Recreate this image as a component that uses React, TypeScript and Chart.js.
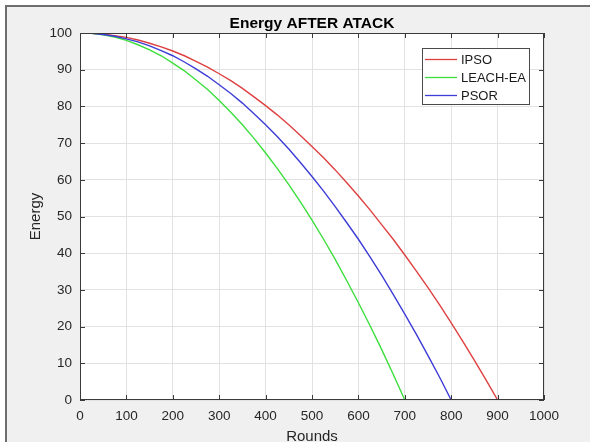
import React, { useEffect, useRef } from "react";
import { Chart, registerables } from "chart.js";

Chart.register(...registerables);

const rounds = [
  0, 25, 50, 75, 100, 125, 150, 175, 200, 225, 250, 275, 300, 325, 350, 375, 400, 425, 450, 475, 500,
  525, 550, 575, 600, 625, 650, 675, 700, 725, 750, 775, 800, 825, 850, 875, 900, 925, 950, 975, 1000,
];
const ipso = [
  100, 99.9, 99.7, 99.3, 98.8, 98.1, 97.2, 96.2, 95.1, 93.8, 92.3, 90.7, 88.9, 87.0, 84.9, 82.6, 80.2, 77.7, 75.0, 72.1, 69.1,
  66.0, 62.7, 59.2, 55.6, 51.8, 47.8, 43.8, 39.5, 35.1, 30.6, 25.9, 21.0, 16.0, 10.8, 5.5, 0, 0, 0, 0, 0,
];
const leachEa = [
  100, 99.9, 99.5, 98.9, 98.0, 96.8, 95.4, 93.8, 91.8, 89.7, 87.2, 84.6, 81.6, 78.4, 75.0, 71.3, 67.3, 63.1, 58.7, 54.0, 49.0,
  43.8, 38.3, 32.5, 26.5, 20.3, 13.8, 7.0, 0, 0, 0, 0, 0, 0, 0, 0, 0, 0, 0, 0, 0,
];
const psor = [
  100, 99.9, 99.6, 99.1, 98.4, 97.6, 96.5, 95.2, 93.8, 92.1, 90.2, 88.2, 85.9, 83.5, 80.9, 78.0, 75.0, 71.8, 68.4, 64.7, 60.9,
  56.9, 52.7, 48.3, 43.8, 39.0, 34.0, 28.8, 23.4, 17.9, 12.1, 6.2, 0, 0, 0, 0, 0, 0, 0, 0, 0,
];

const seriesNames = ["IPSO", "LEACH-EA", "PSOR"];
const seriesColors = ["rgb(222,64,64)", "rgb(60,222,60)", "rgb(60,60,215)"];
const chartTitle = "Energy AFTER ATACK";
const xTitle = "Rounds";
const yTitle = "Energy";

const FONT = "'Liberation Sans', Arial, Helvetica, sans-serif";

const decorPlugin = {
  id: "decor",
  beforeDraw(chart: any) {
    const { ctx, width, height, chartArea } = chart;
    ctx.save();
    ctx.fillStyle = "#ffffff";
    ctx.fillRect(0, 0, width, height);
    ctx.fillStyle = "#f0f0f0";
    ctx.fillRect(6, 6, width - 6, height - 6);
    ctx.strokeStyle = "#6e6e6e";
    ctx.lineWidth = 2;
    ctx.beginPath();
    ctx.moveTo(6, height);
    ctx.lineTo(6, 6);
    ctx.lineTo(width, 6);
    ctx.stroke();
    ctx.fillStyle = "#ffffff";
    ctx.fillRect(chartArea.left, chartArea.top, chartArea.right - chartArea.left, chartArea.bottom - chartArea.top);
    ctx.restore();
  },
  afterDraw(chart: any) {
    const { ctx, chartArea } = chart;
    const { left, right, top, bottom } = chartArea;
    const xs = chart.scales.x;
    const ys = chart.scales.y;
    ctx.save();
    ctx.strokeStyle = "#3a3a3a";
    ctx.lineWidth = 1;
    ctx.strokeRect(left + 0.5, top + 0.5, right - left - 1, bottom - top - 1);
    const tl = 5;
    ctx.beginPath();
    xs.ticks.forEach((t: any) => {
      const px = Math.round(xs.getPixelForValue(t.value)) + 0.5;
      ctx.moveTo(px, bottom);
      ctx.lineTo(px, bottom - tl);
      ctx.moveTo(px, top);
      ctx.lineTo(px, top + tl);
    });
    ys.ticks.forEach((t: any) => {
      const py = Math.round(ys.getPixelForValue(t.value)) + 0.5;
      ctx.moveTo(left, py);
      ctx.lineTo(left + tl, py);
      ctx.moveTo(right, py);
      ctx.lineTo(right - tl, py);
    });
    ctx.stroke();

    // title
    ctx.fillStyle = "#000000";
    ctx.font = "bold 15.5px " + FONT;
    ctx.textAlign = "center";
    ctx.textBaseline = "alphabetic";
    ctx.fillText(chartTitle, (left + right) / 2, 27.5);

    // legend
    const lx = 422, ly = 48, lw = 107, lh = 56;
    ctx.fillStyle = "#ffffff";
    ctx.fillRect(lx, ly, lw, lh);
    ctx.strokeStyle = "#4a4a4a";
    ctx.strokeRect(lx + 0.5, ly + 0.5, lw, lh);
    ctx.font = "13px " + FONT;
    ctx.textAlign = "left";
    ctx.textBaseline = "middle";
    seriesNames.forEach((name, i) => {
      const y = 59.5 + i * 18;
      ctx.strokeStyle = seriesColors[i];
      ctx.lineWidth = 1.3;
      ctx.beginPath();
      ctx.moveTo(425, y);
      ctx.lineTo(457, y);
      ctx.stroke();
      ctx.fillStyle = "#1a1a1a";
      ctx.fillText(name, 461, y + 0.5);
    });
    ctx.restore();
  },
};

export default function App() {
  const ref = useRef<HTMLCanvasElement | null>(null);
  useEffect(() => {
    if (!ref.current) return;
    const mk = (vals: number[]) => rounds.map((r, i) => ({ x: r, y: vals[i] }));
    const all = [ipso, leachEa, psor];
    const chart = new Chart(ref.current, {
      type: "line",
      data: {
        datasets: all.map((vals, i) => ({
          label: seriesNames[i],
          data: mk(vals),
          borderColor: seriesColors[i],
          backgroundColor: seriesColors[i],
          borderWidth: 1.4,
          pointRadius: 0,
          tension: 0,
          order: 2 - i,
        })),
      },
      options: {
        animation: false,
        responsive: false,
        maintainAspectRatio: false,
        layout: { padding: { left: 0, top: 33, right: 46, bottom: 0 } },
        plugins: {
          legend: { display: false },
          title: { display: false },
          tooltip: { enabled: false },
        },
        scales: {
          x: {
            type: "linear",
            min: 0,
            max: 1000,
            border: { display: false },
            grid: { color: "#e2e2e2", drawTicks: false, lineWidth: 1 },
            ticks: {
              stepSize: 100,
              padding: 8,
              color: "#262626",
              font: { family: FONT, size: 13.5 },
              maxRotation: 0,
              callback: (v: any) => String(v),
            },
            title: {
              display: true,
              text: xTitle,
              color: "#262626",
              font: { family: FONT, size: 15, lineHeight: 1 },
              padding: { top: 0, bottom: -2 },
            },
            afterFit: (s: any) => {
              s.height = 42;
            },
          },
          y: {
            type: "linear",
            min: 0,
            max: 100,
            border: { display: false },
            grid: { color: "#e2e2e2", drawTicks: false, lineWidth: 1 },
            ticks: {
              stepSize: 10,
              padding: 8,
              color: "#262626",
              font: { family: FONT, size: 13.5 },
              callback: (v: any) => String(v),
            },
            title: {
              display: true,
              text: yTitle,
              color: "#262626",
              font: { family: FONT, size: 15, lineHeight: 1 },
              padding: { top: 28, bottom: 0 },
            },
            afterFit: (s: any) => {
              s.width = 80;
            },
          },
        },
      },
      plugins: [decorPlugin],
    } as any);
    return () => chart.destroy();
  }, []);
  return (
    <div style={{ position: "absolute", left: 0, top: 0, width: 590, height: 442 }}>
      <canvas ref={ref} width={590} height={442} style={{ width: 590, height: 442, display: "block" }} />
    </div>
  );
}
